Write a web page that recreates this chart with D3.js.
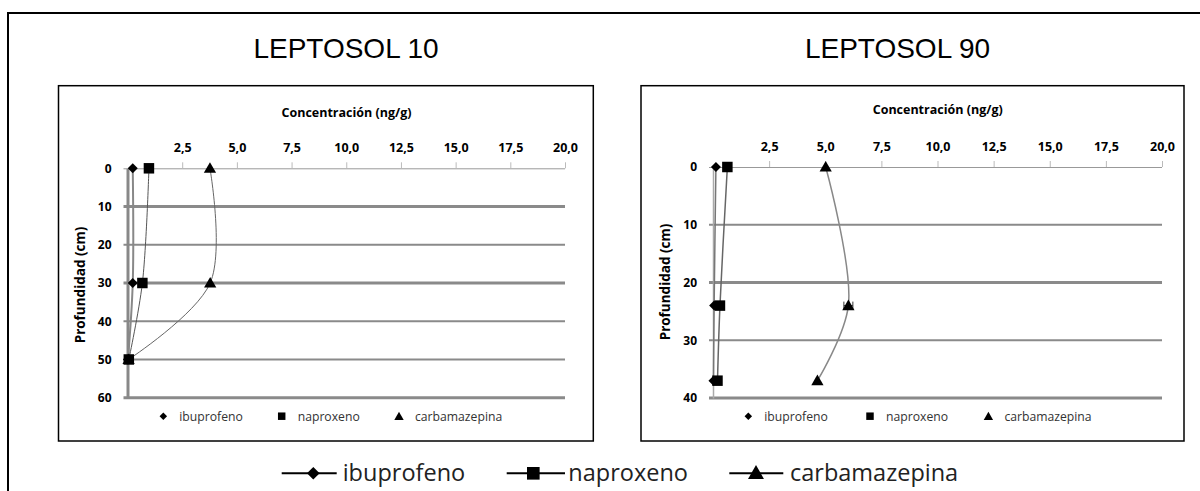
<!DOCTYPE html>
<html>
<head>
<meta charset="utf-8">
<script src="https://cdn.jsdelivr.net/npm/d3@7"></script>
<style>
  html, body { margin: 0; padding: 0; background: #fff; }
  svg { display: block; }
</style>
</head>
<body>
<svg id="chart" width="1200" height="491"></svg>
<script>
// ---------------- DATA ----------------
const seriesNames = ["ibuprofeno", "naproxeno", "carbamazepina"];
const panelTitles = ["LEPTOSOL 10", "LEPTOSOL 90"];
const xTickValues = [2.5, 5, 7.5, 10, 12.5, 15, 17.5, 20];
const xTickLabels = ["2,5", "5,0", "7,5", "10,0", "12,5", "15,0", "17,5", "20,0"];
const yTicks10 = [0, 10, 20, 30, 40, 50, 60];
const yTicks90 = [0, 10, 20, 30, 40];
const xAxisTitle = "Concentración (ng/g)";
const yAxisTitle = "Profundidad (cm)";

// LEPTOSOL 10
const depth10 = [0, 30, 50];
const ibuprofeno10 = [0.24, 0.24, 0.02];
const naproxeno10 = [0.98, 0.68, 0.06];
const carbamazepina10 = [3.77, 3.78, 0.05];

// LEPTOSOL 90
const depth90 = [0, 24, 37];
const ibuprofeno90 = [0.13, 0.05, 0.02];
const naproxeno90 = [0.64, 0.31, 0.2];
const carbamazepina90 = [5.02, 6.03, 4.65];
const carbamazepinaErr90 = [0, 0.2, 0];

// ---------------- LAYOUT ----------------
const svg = d3.select("#chart");
const FONT = "'Open Sans', 'DejaVu Sans', sans-serif";

// outer frame (continues beyond the picture)
svg.append("rect").attr("x", 8).attr("y", 13).attr("width", 1250).attr("height", 560)
  .attr("fill", "none").attr("stroke", "#000").attr("stroke-width", 2);

const panels = [
  {
    title: panelTitles[0], titleX: 346,
    box: [58.5, 85.7, 593.3, 441],
    xr: [127.5, 565], yr: [168.3, 397.7], ydom: [0, 60], yticks: yTicks10,
    depth: depth10,
    values: [ibuprofeno10, naproxeno10, carbamazepina10],
    err: [null, null, null],
    xTitleX: 346.5, xTitleY: 113, yTitleX: 80, yTitleY: 285,
    legendX: [163.3, 281.7, 399], legendY: 416.7,
    gridW: [0, 3, 2, 3, 2, 2, 3],
    axisW: 3, axisColor: "#888",
    lineStyle: [{c: "#888", w: 2}, {c: "#555", w: 1}, {c: "#666", w: 1}]
  },
  {
    title: panelTitles[1], titleX: 897.5,
    box: [641, 85.7, 1184, 441],
    xr: [713, 1162], yr: [167, 398], ydom: [0, 40], yticks: yTicks90,
    depth: depth90,
    values: [ibuprofeno90, naproxeno90, carbamazepina90],
    err: [null, null, carbamazepinaErr90],
    xTitleX: 937.7, xTitleY: 110, yTitleX: 665, yTitleY: 282,
    legendX: [748.3, 870, 988.4], legendY: 416.7,
    gridW: [0, 2, 3, 2, 3],
    axisW: 1.5, axisColor: "#aaa",
    lineStyle: [{c: "#777", w: 1.5}, {c: "#666", w: 1.5}, {c: "#888", w: 1.5}]
  }
];

const markerTypes = ["diamond", "square", "triangle"];
function markerPath(type, size) {
  if (type === "diamond") return d3.symbol(d3.symbolSquare, size)();
  if (type === "square") return d3.symbol(d3.symbolSquare, size)();
  return d3.symbol(d3.symbolTriangle, size)();
}
function markerTransform(type, x, y) {
  if (type === "diamond") return `translate(${x},${y}) rotate(45)`;
  if (type === "triangle") return `translate(${x},${y + 1})`;
  return `translate(${x},${y})`;
}

panels.forEach(p => {
  const g = svg.append("g");
  // title
  g.append("text").attr("x", p.titleX).attr("y", 57.5)
    .attr("text-anchor", "middle")
    .style("font-family", "'Liberation Sans', Arial, sans-serif")
    .style("font-size", "28px").attr("fill", "#000").text(p.title);

  // box
  g.append("rect").attr("x", p.box[0]).attr("y", p.box[1])
    .attr("width", p.box[2] - p.box[0]).attr("height", p.box[3] - p.box[1])
    .attr("fill", "#fff").attr("stroke", "#000").attr("stroke-width", 1.5);

  const x = d3.scaleLinear().domain([0, 20]).range(p.xr);
  const y = d3.scaleLinear().domain(p.ydom).range(p.yr);

  // horizontal gridlines (depth ticks)
  p.yticks.forEach((t, i) => {
    if (i === 0) return;
    g.append("line").attr("x1", p.xr[0] - 4).attr("x2", p.xr[1])
      .attr("y1", y(t)).attr("y2", y(t))
      .attr("stroke", "#8a8a8a").attr("stroke-width", p.gridW[i]);
  });

  // x axis at depth 0 (top)
  const xAxis = d3.axisTop(x).tickValues(xTickValues).tickFormat((d, i) => xTickLabels[i])
    .tickSize(6).tickPadding(10);
  const xg = g.append("g").attr("transform", `translate(0,${y(0)})`).call(xAxis);
  xg.select(".domain").attr("stroke", "#999").attr("stroke-width", 1)
    .attr("d", `M${p.xr[0] - 4},0.5H${p.xr[1]}`);
  xg.selectAll(".tick line").attr("stroke", "#bbb").attr("stroke-width", 1);
  xg.selectAll(".tick text").style("font-family", FONT).style("font-size", "12.5px")
    .style("font-weight", "bold").attr("fill", "#000");

  // y axis
  const yAxis = d3.axisLeft(y).tickValues(p.yticks).tickSize(0).tickPadding(16);
  const yg = g.append("g").attr("transform", `translate(${p.xr[0]},0)`).call(yAxis);
  yg.select(".domain").attr("stroke", p.axisColor).attr("stroke-width", p.axisW);
  yg.selectAll(".tick text").style("font-family", FONT).style("font-size", "12px")
    .style("font-weight", "bold").attr("fill", "#000");

  // axis titles
  g.append("text").attr("x", p.xTitleX).attr("y", p.xTitleY).attr("dy", "0.35em")
    .attr("text-anchor", "middle").style("font-family", FONT).style("font-size", "12.5px")
    .style("font-weight", "bold").text(xAxisTitle);
  g.append("text").attr("transform", `translate(${p.yTitleX},${p.yTitleY}) rotate(-90)`)
    .attr("dy", "0.35em").attr("text-anchor", "middle").style("font-family", FONT)
    .style("font-size", "13.5px").style("font-weight", "bold").text(yAxisTitle);

  // series lines
  p.values.forEach((vals, si) => {
    const pts = vals.map((v, i) => [v, p.depth[i]]);
    const line = d3.line().x(d => x(d[0])).y(d => y(d[1])).curve(d3.curveCatmullRom.alpha(0.5));
    g.append("path").attr("d", line(pts)).attr("fill", "none")
      .attr("stroke", p.lineStyle[si].c).attr("stroke-width", p.lineStyle[si].w);
  });
  // error bars
  p.err.forEach((errs, si) => {
    if (!errs) return;
    errs.forEach((e, i) => {
      if (!e) return;
      const v = p.values[si][i], yy = y(p.depth[i]);
      g.append("line").attr("x1", x(v - e)).attr("x2", x(v + e)).attr("y1", yy).attr("y2", yy)
        .attr("stroke", "#333").attr("stroke-width", 1);
      [v - e, v + e].forEach(ev => {
        g.append("line").attr("x1", x(ev)).attr("x2", x(ev)).attr("y1", yy - 4).attr("y2", yy + 4)
          .attr("stroke", "#333").attr("stroke-width", 1);
      });
    });
  });
  // markers
  const mSize = [50, 110, 65];
  p.values.forEach((vals, si) => {
    vals.forEach((v, i) => {
      g.append("path").attr("d", markerPath(markerTypes[si], mSize[si]))
        .attr("transform", markerTransform(markerTypes[si], x(v), y(p.depth[i])))
        .attr("fill", "#000");
    });
  });

  // inner legend
  const lSize = [28, 56, 38];
  seriesNames.forEach((name, si) => {
    const lx = p.legendX[si];
    g.append("path").attr("d", markerPath(markerTypes[si], lSize[si]))
      .attr("transform", markerTransform(markerTypes[si], lx, p.legendY - 0.5))
      .attr("fill", "#000");
    g.append("text").attr("x", lx + 16).attr("y", p.legendY).attr("dy", "0.35em")
      .style("font-family", FONT).style("font-size", "12.2px").attr("fill", "#333").text(name);
  });
});

// bottom legend
const bottomLegend = [
  {x1: 281.7, x2: 336.7, mx: 313.3, tx: 342.7},
  {x1: 506.7, x2: 565, mx: 533.3, tx: 568.3},
  {x1: 729.3, x2: 783.3, mx: 756, tx: 790}
];
const bSize = [80, 160, 110];
const legY = 473.3;
seriesNames.forEach((name, si) => {
  const b = bottomLegend[si];
  svg.append("line").attr("x1", b.x1).attr("x2", b.x2).attr("y1", legY).attr("y2", legY)
    .attr("stroke", "#000").attr("stroke-width", 2);
  svg.append("path").attr("d", markerPath(markerTypes[si], bSize[si]))
    .attr("transform", markerTransform(markerTypes[si], b.mx, legY))
    .attr("fill", "#000");
  svg.append("text").attr("x", b.tx).attr("y", legY).attr("dy", "0.33em")
    .style("font-family", FONT).style("font-size", "23.5px").attr("fill", "#222").text(name);
});
</script>
</body>
</html>
